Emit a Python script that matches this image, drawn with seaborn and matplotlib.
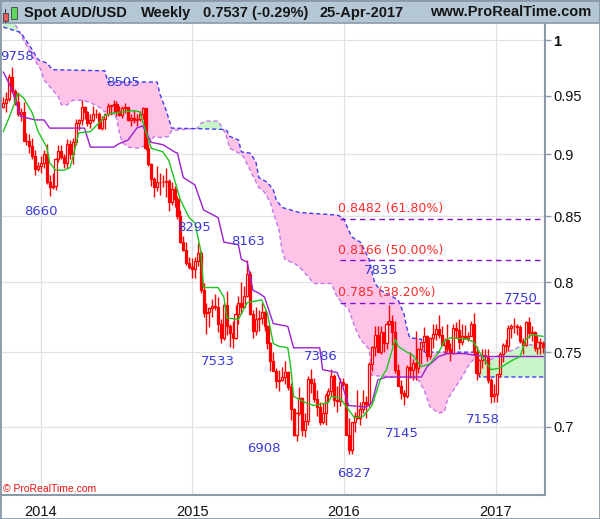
import numpy as np
import pandas as pd
import matplotlib
matplotlib.use("Agg")
import matplotlib.pyplot as plt
import matplotlib.dates as mdates
from matplotlib.patches import Rectangle
from matplotlib.ticker import NullLocator, NullFormatter
import seaborn as sns

# --- DATA (weekly AUD/USD, first bar = week of 30-Sep-2013) ---
first_monday = "2013-09-30"

opens = [
    0.9400, 0.9440, 0.9475, 0.9665, 0.9540, 0.9445, 0.9345, 0.9355, 0.9115, 0.9115,
    0.9070, 0.8985, 0.8880, 0.8900, 0.8930, 0.9000, 0.8775, 0.8730, 0.8745, 0.8960,
    0.9030, 0.8980, 0.8930, 0.9090, 0.9005, 0.9100, 0.9265, 0.9285, 0.9400, 0.9355,
    0.9260, 0.9285, 0.9340, 0.9345, 0.9225, 0.9300, 0.9345, 0.9410, 0.9415, 0.9430,
    0.9370, 0.9335, 0.9390, 0.9400, 0.9290, 0.9310, 0.9290, 0.9300, 0.9340, 0.9390,
    0.9050, 0.8920, 0.8800, 0.8735, 0.8770, 0.8770, 0.8770, 0.8785, 0.8615, 0.8720,
    0.8635, 0.8500, 0.8300, 0.8240, 0.8140, 0.8115, 0.8100, 0.8160, 0.8215, 0.7940,
    0.7775, 0.7780, 0.7810, 0.7825, 0.7820, 0.7700, 0.7600, 0.7830, 0.7685, 0.7630,
    0.7600, 0.7770, 0.7850, 0.7820, 0.7900, 0.8060, 0.7770, 0.7650, 0.7735, 0.7740,
    0.7780, 0.7680, 0.7560, 0.7440, 0.7370, 0.7305, 0.7310, 0.7330, 0.7365, 0.7260,
    0.7120, 0.6950, 0.7090, 0.7190, 0.6980, 0.7040, 0.7315, 0.7290, 0.7180, 0.7130,
    0.7030, 0.7090, 0.7210, 0.7235, 0.7335, 0.7175, 0.7170, 0.7295, 0.7280, 0.6950,
    0.6855, 0.7030, 0.7070, 0.7060, 0.7120, 0.7165, 0.7150, 0.7420, 0.7535, 0.7620,
    0.7500, 0.7640, 0.7560, 0.7700, 0.7720, 0.7640, 0.7380, 0.7270, 0.7220, 0.7200,
    0.7400, 0.7380, 0.7425, 0.7390, 0.7520, 0.7570, 0.7610, 0.7475, 0.7600, 0.7625,
    0.7660, 0.7620, 0.7550, 0.7585, 0.7525, 0.7495, 0.7670, 0.7655, 0.7570, 0.7610,
    0.7600, 0.7610, 0.7700, 0.7500, 0.7360, 0.7445, 0.7480, 0.7470, 0.7310, 0.7200,
    0.7215, 0.7350, 0.7490, 0.7550, 0.7545, 0.7670, 0.7680, 0.7680, 0.7675, 0.7580,
    0.7550, 0.7710, 0.7630, 0.7640, 0.7530, 0.7570, 0.7560,
]
highs = [
    0.9490, 0.9530, 0.9690, 0.9758, 0.9560, 0.9530, 0.9390, 0.9445, 0.9175, 0.9170,
    0.9140, 0.9040, 0.8935, 0.8990, 0.9040, 0.9085, 0.8830, 0.8850, 0.8970, 0.9080,
    0.9080, 0.9000, 0.9130, 0.9120, 0.9135, 0.9300, 0.9300, 0.9460, 0.9410, 0.9370,
    0.9340, 0.9410, 0.9380, 0.9360, 0.9320, 0.9350, 0.9440, 0.9420, 0.9460, 0.9450,
    0.9410, 0.9410, 0.9440, 0.9400, 0.9340, 0.9375, 0.9340, 0.9370, 0.9400, 0.9390,
    0.9090, 0.8930, 0.8815, 0.8900, 0.8850, 0.8830, 0.8890, 0.8795, 0.8770, 0.8740,
    0.8660, 0.8550, 0.8350, 0.8300, 0.8190, 0.8180, 0.8190, 0.8295, 0.8230, 0.7990,
    0.7850, 0.7820, 0.7880, 0.7910, 0.7890, 0.7735, 0.7850, 0.7935, 0.7700, 0.7720,
    0.7830, 0.7900, 0.8000, 0.7970, 0.8163, 0.8085, 0.7795, 0.7815, 0.7800, 0.7850,
    0.7800, 0.7690, 0.7570, 0.7500, 0.7390, 0.7380, 0.7400, 0.7440, 0.7370, 0.7290,
    0.7125, 0.7100, 0.7265, 0.7195, 0.7090, 0.7335, 0.7382, 0.7320, 0.7240, 0.7165,
    0.7155, 0.7225, 0.7255, 0.7385, 0.7350, 0.7270, 0.7325, 0.7325, 0.7290, 0.7060,
    0.7030, 0.7100, 0.7240, 0.7165, 0.7240, 0.7200, 0.7430, 0.7540, 0.7680, 0.7680,
    0.7680, 0.7640, 0.7720, 0.7835, 0.7760, 0.7720, 0.7420, 0.7310, 0.7245, 0.7410,
    0.7500, 0.7450, 0.7650, 0.7530, 0.7570, 0.7675, 0.7620, 0.7605, 0.7700, 0.7700,
    0.7760, 0.7680, 0.7600, 0.7700, 0.7565, 0.7700, 0.7710, 0.7730, 0.7700, 0.7690,
    0.7640, 0.7720, 0.7778, 0.7540, 0.7450, 0.7520, 0.7520, 0.7520, 0.7320, 0.7280,
    0.7350, 0.7500, 0.7560, 0.7590, 0.7690, 0.7700, 0.7740, 0.7700, 0.7690, 0.7600,
    0.7715, 0.7750, 0.7680, 0.7650, 0.7620, 0.7600, 0.7580,
]
lows = [
    0.9390, 0.9360, 0.9450, 0.9525, 0.9420, 0.9320, 0.9280, 0.9110, 0.9075, 0.9010,
    0.8960, 0.8830, 0.8860, 0.8850, 0.8890, 0.8760, 0.8660, 0.8720, 0.8710, 0.8935,
    0.8960, 0.8890, 0.8890, 0.8960, 0.8920, 0.9080, 0.9200, 0.9250, 0.9300, 0.9240,
    0.9225, 0.9270, 0.9310, 0.9210, 0.9200, 0.9210, 0.9320, 0.9330, 0.9350, 0.9320,
    0.9320, 0.9310, 0.9350, 0.9280, 0.9240, 0.9260, 0.9240, 0.9280, 0.9300, 0.9040,
    0.8900, 0.8745, 0.8650, 0.8700, 0.8670, 0.8730, 0.8650, 0.8540, 0.8590, 0.8570,
    0.8480, 0.8290, 0.8230, 0.8130, 0.8100, 0.8030, 0.8030, 0.8120, 0.7920, 0.7750,
    0.7625, 0.7675, 0.7750, 0.7800, 0.7640, 0.7560, 0.7585, 0.7620, 0.7533, 0.7530,
    0.7590, 0.7700, 0.7770, 0.7810, 0.7890, 0.7760, 0.7600, 0.7620, 0.7650, 0.7700,
    0.7650, 0.7525, 0.7370, 0.7370, 0.7255, 0.7235, 0.7300, 0.7280, 0.7240, 0.7044,
    0.6945, 0.6908, 0.7080, 0.6940, 0.6935, 0.7015, 0.7220, 0.7160, 0.7070, 0.7015,
    0.7020, 0.7015, 0.7165, 0.7200, 0.7140, 0.7100, 0.7140, 0.7270, 0.6950, 0.6827,
    0.6830, 0.6970, 0.7050, 0.7010, 0.7090, 0.7060, 0.7130, 0.7370, 0.7470, 0.7500,
    0.7490, 0.7500, 0.7520, 0.7690, 0.7550, 0.7360, 0.7270, 0.7185, 0.7145, 0.7190,
    0.7320, 0.7310, 0.7310, 0.7360, 0.7420, 0.7505, 0.7440, 0.7455, 0.7530, 0.7585,
    0.7600, 0.7540, 0.7485, 0.7500, 0.7440, 0.7490, 0.7600, 0.7520, 0.7550, 0.7590,
    0.7580, 0.7610, 0.7480, 0.7310, 0.7340, 0.7390, 0.7420, 0.7290, 0.7158, 0.7160,
    0.7160, 0.7330, 0.7435, 0.7500, 0.7505, 0.7600, 0.7630, 0.7620, 0.7560, 0.7490,
    0.7540, 0.7600, 0.7580, 0.7510, 0.7490, 0.7490, 0.7495,
]
closes = [
    0.9440, 0.9475, 0.9665, 0.9540, 0.9445, 0.9345, 0.9355, 0.9115, 0.9115, 0.9070,
    0.8985, 0.8880, 0.8900, 0.8930, 0.9000, 0.8775, 0.8730, 0.8745, 0.8960, 0.9030,
    0.8980, 0.8930, 0.9090, 0.9005, 0.9100, 0.9265, 0.9285, 0.9400, 0.9355, 0.9260,
    0.9285, 0.9340, 0.9345, 0.9225, 0.9300, 0.9345, 0.9410, 0.9415, 0.9430, 0.9370,
    0.9335, 0.9390, 0.9400, 0.9290, 0.9310, 0.9290, 0.9300, 0.9340, 0.9390, 0.9050,
    0.8920, 0.8800, 0.8735, 0.8770, 0.8770, 0.8770, 0.8785, 0.8615, 0.8720, 0.8635,
    0.8500, 0.8300, 0.8240, 0.8140, 0.8115, 0.8100, 0.8160, 0.8215, 0.7940, 0.7775,
    0.7780, 0.7810, 0.7825, 0.7820, 0.7700, 0.7600, 0.7830, 0.7685, 0.7630, 0.7600,
    0.7770, 0.7850, 0.7820, 0.7900, 0.8060, 0.7770, 0.7650, 0.7735, 0.7740, 0.7780,
    0.7680, 0.7560, 0.7440, 0.7370, 0.7305, 0.7310, 0.7330, 0.7365, 0.7260, 0.7120,
    0.6950, 0.7090, 0.7190, 0.6980, 0.7040, 0.7315, 0.7290, 0.7180, 0.7130, 0.7030,
    0.7090, 0.7210, 0.7235, 0.7335, 0.7175, 0.7170, 0.7295, 0.7280, 0.6950, 0.6855,
    0.7030, 0.7070, 0.7060, 0.7120, 0.7165, 0.7150, 0.7420, 0.7535, 0.7620, 0.7500,
    0.7640, 0.7560, 0.7700, 0.7720, 0.7640, 0.7380, 0.7270, 0.7220, 0.7200, 0.7400,
    0.7380, 0.7425, 0.7390, 0.7520, 0.7570, 0.7610, 0.7475, 0.7600, 0.7625, 0.7660,
    0.7620, 0.7550, 0.7585, 0.7525, 0.7495, 0.7670, 0.7655, 0.7570, 0.7610, 0.7600,
    0.7610, 0.7700, 0.7500, 0.7360, 0.7445, 0.7480, 0.7470, 0.7310, 0.7200, 0.7215,
    0.7350, 0.7490, 0.7550, 0.7545, 0.7670, 0.7680, 0.7680, 0.7675, 0.7580, 0.7550,
    0.7710, 0.7630, 0.7640, 0.7530, 0.7570, 0.7560, 0.7537,
]

# Ichimoku lines (week index -> price)
tenkan_weeks = [0, 2, 4, 5, 7, 10, 12, 15, 16, 18, 21, 23, 24, 26, 30, 34, 35, 38,
                45, 47, 49, 51, 55, 57, 59, 61, 64, 66, 68, 69, 74, 76, 77, 81, 84,
                89, 91, 93, 95, 98, 99, 100, 104, 107, 112, 113, 116, 119, 121, 124,
                127, 130, 132, 135, 136, 139, 141, 144, 147, 150, 152, 154, 160, 162,
                164, 168, 171, 175, 178, 180, 182, 186]
tenkan_vals = [0.919, 0.931, 0.944, 0.952, 0.948, 0.935, 0.919, 0.906, 0.893, 0.887,
               0.887, 0.889, 0.898, 0.918, 0.919, 0.929, 0.933, 0.935, 0.937, 0.936,
               0.920, 0.905, 0.902, 0.895, 0.879, 0.863, 0.849, 0.845, 0.824, 0.796,
               0.796, 0.789, 0.774, 0.773, 0.785, 0.787, 0.777, 0.756, 0.754, 0.753,
               0.740, 0.720, 0.716, 0.714, 0.716, 0.720, 0.719, 0.711, 0.706, 0.707,
               0.714, 0.732, 0.738, 0.759, 0.754, 0.750, 0.748, 0.740, 0.742, 0.750,
               0.758, 0.760, 0.759, 0.757, 0.750, 0.738, 0.739, 0.744, 0.747, 0.759,
               0.762, 0.761]

kijun_weeks = [0, 1, 3, 6, 11, 14, 16, 28, 30, 38, 40, 43, 46, 48, 51, 55, 59, 60,
               62, 66, 69, 74, 76, 81, 82, 84, 86, 88, 90, 93, 98, 100, 109, 110,
               115, 117, 119, 125, 127, 129, 132, 144, 146, 150, 153, 159, 162, 166, 186]
kijun_vals = [0.971, 0.966, 0.955, 0.932, 0.929, 0.929, 0.922, 0.922, 0.906, 0.906,
              0.909, 0.912, 0.922, 0.924, 0.910, 0.908, 0.902, 0.901, 0.881, 0.875,
              0.855, 0.849, 0.830, 0.828, 0.817, 0.815, 0.794, 0.792, 0.789, 0.770,
              0.768, 0.753, 0.753, 0.738, 0.736, 0.726, 0.714, 0.713, 0.716, 0.731,
              0.733, 0.733, 0.740, 0.747, 0.749, 0.749, 0.748, 0.747, 0.747]

span_a_weeks = [0, 4, 6, 9, 10, 13, 14, 16, 19, 20, 22, 24, 27, 30, 33, 35, 37, 39,
                40, 41, 43, 47, 50, 52, 54, 57, 58, 67, 68, 70, 74, 76, 77, 78, 82,
                83, 85, 88, 90, 92, 93, 95, 96, 97, 101, 103, 107, 113, 115, 119, 121,
                123, 126, 127, 135, 140, 143, 145, 147, 150, 152, 153, 155, 158, 160,
                162, 163, 164, 168, 171, 175, 178, 181, 188]
span_a_vals = [1.030, 1.015, 1.005, 0.990, 0.985, 0.973, 0.964, 0.958, 0.949, 0.942,
               0.942, 0.946, 0.946, 0.944, 0.940, 0.936, 0.935, 0.931, 0.918, 0.910,
               0.906, 0.905, 0.909, 0.915, 0.914, 0.915, 0.920, 0.922, 0.926, 0.928,
               0.928, 0.920, 0.914, 0.905, 0.900, 0.897, 0.887, 0.873, 0.869, 0.861,
               0.853, 0.839, 0.824, 0.817, 0.813, 0.809, 0.799, 0.799, 0.789, 0.780,
               0.768, 0.759, 0.752, 0.734, 0.733, 0.733, 0.731, 0.724, 0.713, 0.709,
               0.710, 0.718, 0.724, 0.733, 0.740, 0.745, 0.748, 0.743, 0.745, 0.748,
               0.751, 0.754, 0.755, 0.755]

span_b_weeks = [0, 6, 10, 12, 15, 17, 35, 36, 53, 54, 56, 58, 75, 77, 78, 81, 82, 85,
                87, 88, 91, 93, 94, 96, 102, 115, 117, 120, 123, 124, 126, 127, 128,
                130, 136, 138, 139, 140, 144, 145, 163, 164, 188]
span_b_vals = [1.012, 1.007, 0.991, 0.982, 0.979, 0.973, 0.972, 0.962, 0.962, 0.951,
               0.938, 0.922, 0.921, 0.920, 0.915, 0.912, 0.902, 0.901, 0.894, 0.881,
               0.877, 0.871, 0.863, 0.857, 0.853, 0.851, 0.849, 0.834, 0.830, 0.826,
               0.817, 0.807, 0.799, 0.794, 0.787, 0.777, 0.767, 0.760, 0.759, 0.750,
               0.750, 0.733, 0.733]

fib_levels = [0.8482, 0.8166, 0.785]
fib_labels = ["0.8482 (61.80%)", "0.8166 (50.00%)", "0.785 (38.20%)"]

swing_labels = ["9758", "8505", "8660", "8295", "8163", "7835", "7750",
                "7533", "7386", "6908", "6827", "7145", "7158"]

y_ticks = [0.7, 0.75, 0.8, 0.85, 0.9, 0.95, 1.0]
y_tick_labels = ["0.7", "0.75", "0.8", "0.85", "0.9", "0.95", "1"]
year_labels = ["2014", "2015", "2016", "2017"]

# --- STYLE ---
sns.set_style("white")
plt.rcParams["font.family"] = ["Liberation Sans", "DejaVu Sans"]

RED = "#ff0000"
FRAME = "#8a9aa8"
BLUE_TXT = "#3b3bd6"

t0 = mdates.date2num(pd.Timestamp(first_monday))


def week_x(weeks):
    # bar centre sits mid-week
    return t0 + np.asarray(weeks, dtype=float) * 7 + 2


def px_date(xpx):
    # horizontal pixel of the reference -> date number
    return mdates.date2num(pd.Timestamp("2014-01-01")) + (xpx - 41) / 151.5 * 365.25


def px_price(ypx):
    return np.exp(-(ypx - 40) / 1085.0)


fig = plt.figure(figsize=(6.0, 5.19), dpi=100)
ax = fig.add_axes([0.0, 24 / 519, 545 / 600, 472 / 519])
ax.set_yscale("log")

# --- CLOUD ---
grid = np.arange(0, 189)
a_grid = np.interp(grid, span_a_weeks, span_a_vals)
b_grid = np.interp(grid, span_b_weeks, span_b_vals)
gx = week_x(grid)
ax.fill_between(gx, a_grid, b_grid, where=b_grid >= a_grid, interpolate=True,
                color="#ffc3e8", lw=0, zorder=1)
ax.fill_between(gx, a_grid, b_grid, where=a_grid > b_grid, interpolate=True,
                color="#c9f5c9", lw=0, zorder=1)
sns.lineplot(x=week_x(span_a_weeks), y=span_a_vals, ax=ax, color="#c277ea",
             lw=1.0, linestyle=(0, (3, 2)), estimator=None, sort=False, legend=False, zorder=2)
sns.lineplot(x=week_x(span_b_weeks), y=span_b_vals, ax=ax, color="#3d3df0",
             lw=1.0, linestyle=(0, (3, 2)), estimator=None, sort=False, legend=False, zorder=2)

# --- FIBONACCI LEVELS ---
fib_start = px_date(340)
x_right = px_date(545)
ax.hlines(fib_levels, fib_start, x_right, colors="#8411c8", linestyles=(0, (4, 3)),
          lw=1.0, zorder=2)
for lvl, lab in zip(fib_levels, fib_labels):
    ax.annotate(lab, (px_date(338), lvl), xytext=(0, 7), textcoords="offset points",
                ha="left", va="center", color="#ff2a2a", fontsize=9,
                family="DejaVu Sans", zorder=6)

# --- CANDLES ---
o = np.array(opens)
h = np.array(highs)
l = np.array(lows)
c = np.array(closes)
cx = week_x(np.arange(len(c)))
up = c >= o
ax.vlines(cx, l, h, color=RED, lw=1.0, zorder=3)
ax.bar(cx[up], (c - o)[up], bottom=o[up], width=5.0, facecolor="white",
       edgecolor=RED, lw=0.9, zorder=3.5)
ax.bar(cx[~up], (o - c)[~up], bottom=c[~up], width=5.0, facecolor=RED,
       edgecolor=RED, lw=0.9, zorder=3.5)

# --- TENKAN / KIJUN ---
sns.lineplot(x=week_x(kijun_weeks), y=kijun_vals, ax=ax, color="#9a1fd0", lw=1.0,
             estimator=None, sort=False, legend=False, zorder=4)
sns.lineplot(x=week_x(tenkan_weeks), y=tenkan_vals, ax=ax, color="#1ec41e", lw=1.0,
             estimator=None, sort=False, legend=False, zorder=4)

# --- SWING LABELS ---
label_px = [(17, 56), (123, 82), (41, 211), (194, 227), (248, 241), (381, 270),
            (521, 299), (218, 362), (321, 356), (264, 449), (354, 474), (402, 434),
            (483, 419)]
for lab, (xp, yp) in zip(swing_labels, label_px):
    ax.text(px_date(xp), px_price(yp), lab, color=BLUE_TXT, fontsize=9.5,
            family="DejaVu Sans", ha="center", va="center", zorder=6)

# --- AXES ---
ax.set_xlim(px_date(0), x_right)
ax.set_ylim(px_price(495), px_price(23))
ax.set_yticks(y_ticks, labels=y_tick_labels)
ax.yaxis.set_minor_locator(NullLocator())
ax.yaxis.set_minor_formatter(NullFormatter())
ax.yaxis.tick_right()
for lbl in ax.get_yticklabels():
    if lbl.get_text() == "1":
        lbl.set_fontweight("bold")
year_x = [mdates.date2num(pd.Timestamp(f"{y}-01-01")) for y in year_labels]
ax.set_xticks(year_x, labels=year_labels)
ax.tick_params(axis="y", length=4, width=1, color=FRAME, pad=2, labelsize=10.5,
               labelcolor="#111111")
ax.tick_params(axis="x", length=0, pad=7, labelsize=10.5, labelcolor="#111111")
ax.grid(True, color="#e2e2e2", lw=0.9)
ax.set_axisbelow(True)
ax.set_xlabel("")
ax.set_ylabel("")
for side in ["left", "right", "bottom"]:
    ax.spines[side].set_color(FRAME)
    ax.spines[side].set_linewidth(1.5)
ax.spines["top"].set_visible(False)

# --- HEADER BAR ---
H = 519.0
W = 600.0
fig.add_artist(Rectangle((0, 1 - 23 / H), 1, 23 / H, transform=fig.transFigure,
                         facecolor="#b3c7d5", edgecolor=FRAME, lw=1.2, zorder=5))
# small candle icon
fig.add_artist(Rectangle((5 / W, 1 - 23 / H), 0.7 / W, 14 / H, transform=fig.transFigure,
                         facecolor="#333333", edgecolor="none", zorder=6))
fig.add_artist(Rectangle((2.5 / W, 1 - 21 / H), 5.5 / W, 8 / H, transform=fig.transFigure,
                         facecolor="#e85a5a", edgecolor="#444444", lw=0.6, zorder=7))
fig.add_artist(Rectangle((13.5 / W, 1 - 22 / H), 0.7 / W, 19 / H, transform=fig.transFigure,
                         facecolor="#333333", edgecolor="none", zorder=6))
fig.add_artist(Rectangle((11 / W, 1 - 19 / H), 5.5 / W, 12 / H, transform=fig.transFigure,
                         facecolor="#5ed65e", edgecolor="#444444", lw=0.6, zorder=7))

hy = 1 - 12.5 / H
hdr = dict(fontsize=10.5, fontweight="bold", va="center", color="#151515", zorder=8)
fig.text(24 / W, hy, "Spot AUD/USD", ha="left", **hdr)
fig.text(141 / W, hy, "Weekly", ha="left", **hdr)
fig.text(203 / W, hy, "0.7537 (-0.29%)", ha="left", **hdr)
fig.text(320 / W, hy, "25-Apr-2017", ha="left", **hdr)
fig.text(591 / W, hy, "www.ProRealTime.com", ha="right", **hdr)

fig.text(3 / W, 1 - 489 / H, "\u00a9 ProRealTime.com", color="#ee1111", fontsize=7.5,
         ha="left", va="center")

# outer frame
fig.add_artist(Rectangle((0, 0), 1, 1, transform=fig.transFigure, fill=False,
                         edgecolor=FRAME, lw=2, zorder=9))

fig.savefig("out.png", dpi=100)
